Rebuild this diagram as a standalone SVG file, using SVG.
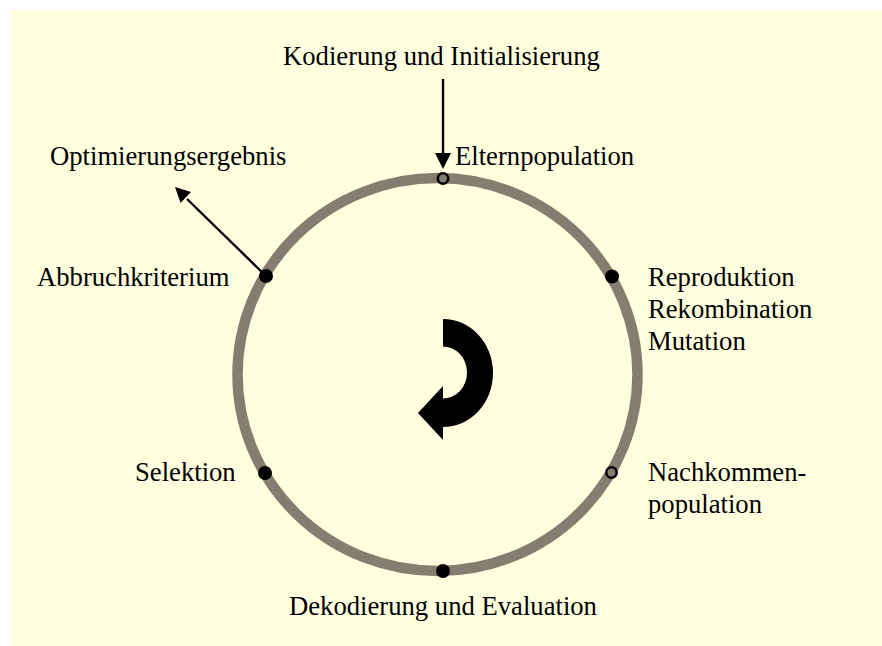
<svg xmlns="http://www.w3.org/2000/svg" width="882" height="646" viewBox="0 0 882 646">
<style>
.t{font-family:"Liberation Serif","Times New Roman",serif;font-size:26.67px;fill:#000}
.dot{fill:#000}
.open{fill:none;stroke:#000;stroke-width:2.6}
.ln{stroke:#000;stroke-width:2.4;fill:none}
.ah{fill:#000}
</style>
<rect x="11" y="10" width="871" height="636" fill="#ffffdf"/>
<g id="cycle">
<ellipse cx="437.5" cy="374.5" rx="200" ry="196.5" fill="none" stroke="#867c70" stroke-width="10.5"/>
</g>
<g id="rotation">
<path d="M443 319 A50 54 0 0 1 443 427 L443 440 L418 413 L443 386 L443 398.5 A24 26 0 0 0 443 346.5 Z" fill="#000"/>
</g>
<g id="connectors">
<line class="ln" x1="443" y1="79" x2="443" y2="156"/>
<polygon class="ah" points="435,153 451,153 443,169"/>
<line class="ln" x1="266" y1="276" x2="187" y2="199"/>
<polygon class="ah" points="175,187 191,192.1 180.5,202.9"/>
</g>
<g id="init"><text class="t" x="283" y="65">Kodierung und Initialisierung</text></g>
<g id="eltern"><circle class="open" cx="443" cy="178.5" r="5.2"/><text class="t" x="455" y="165">Elternpopulation</text></g>
<g id="ergebnis"><text class="t" x="50" y="165">Optimierungsergebnis</text></g>
<g id="abbruch"><circle class="dot" cx="266" cy="276" r="7"/><text class="t" x="37" y="286">Abbruchkriterium</text></g>
<g id="reproduktion"><circle class="dot" cx="612" cy="276.5" r="7"/><text class="t" x="648" y="286">Reproduktion</text><text class="t" x="648" y="318">Rekombination</text><text class="t" x="648" y="350">Mutation</text></g>
<g id="selektion"><circle class="dot" cx="265" cy="473" r="7"/><text class="t" x="135" y="481">Selektion</text></g>
<g id="nachkommen"><circle class="open" cx="611.5" cy="472.5" r="5.2"/><text class="t" x="648" y="481">Nachkommen-</text><text class="t" x="648" y="513">population</text></g>
<g id="evaluation"><circle class="dot" cx="443" cy="571" r="7"/><text class="t" x="289" y="615">Dekodierung und Evaluation</text></g>
</svg>
